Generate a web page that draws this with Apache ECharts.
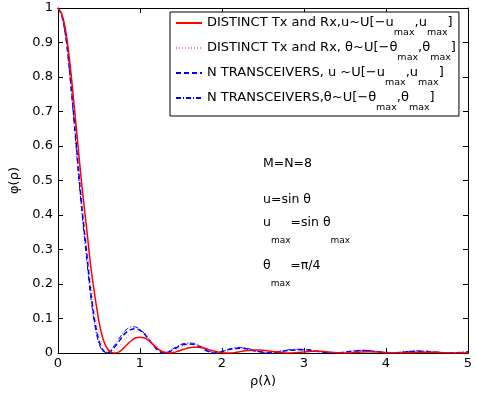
<!DOCTYPE html>
<html>
<head>
<meta charset="utf-8">
<script src="https://cdn.jsdelivr.net/npm/echarts@6/dist/echarts.min.js"></script>
<style>
  html, body { margin: 0; padding: 0; background: #fff; }
  #chart { width: 477px; height: 395px; }
</style>
</head>
<body>
<div id="chart"></div>
<script>
// rho (lambda) sample positions
const rho = [
  0, 0.05, 0.1, 0.15, 0.2, 0.25, 0.3, 0.35, 0.4, 0.45, 0.5, 0.55, 0.6, 0.65, 0.7, 0.75, 0.8, 0.85, 0.9, 0.95,
  1.0, 1.05, 1.1, 1.15, 1.2, 1.25, 1.3, 1.35, 1.4, 1.45, 1.5, 1.55, 1.6, 1.65, 1.7, 1.75, 1.8, 1.85, 1.9, 1.95,
  2.0, 2.05, 2.1, 2.15, 2.2, 2.25, 2.3, 2.35, 2.4, 2.45, 2.5,
  2.6, 2.7, 2.8, 2.9, 3.0, 3.1, 3.2, 3.3, 3.4, 3.5, 3.6, 3.7, 3.8, 3.9, 4.0, 4.1, 4.2, 4.3, 4.4, 4.5, 4.6, 4.7, 4.8, 4.9, 5.0
];

// DISTINCT Tx and Rx, u uniform (red solid)
const distinctU = [
  1, 0.98, 0.925, 0.83, 0.71, 0.585, 0.465, 0.36, 0.25, 0.165, 0.09, 0.04, 0.013, 0.002, 0, 0.004, 0.014, 0.026, 0.037, 0.044,
  0.046, 0.044, 0.037, 0.027, 0.016, 0.007, 0.002, 0, 0.001, 0.004, 0.008, 0.012, 0.015, 0.0165, 0.0165, 0.016, 0.013, 0.009, 0.006, 0.003,
  0.001, 0, 0, 0.001, 0.003, 0.005, 0.007, 0.008, 0.0085, 0.0085, 0.008,
  0.005, 0.002, 0, 0.001, 0.003, 0.005, 0.005, 0.003, 0.001, 0, 0.001, 0.003, 0.0035, 0.003, 0.0015, 0.0003, 0, 0.001, 0.002, 0.0025, 0.002, 0.001, 0.0002, 0, 0.0005
];

// DISTINCT Tx and Rx, theta uniform (red dotted)
const distinctTheta = [
  1, 0.978, 0.915, 0.81, 0.685, 0.55, 0.425, 0.315, 0.205, 0.12, 0.055, 0.018, 0.003, 0.001, 0.008, 0.02, 0.035, 0.048, 0.057, 0.062,
  0.063, 0.059, 0.05, 0.037, 0.023, 0.011, 0.003, 0.001, 0.004, 0.01, 0.016, 0.021, 0.024, 0.025, 0.024, 0.02, 0.015, 0.009, 0.004, 0.001,
  0.001, 0.003, 0.007, 0.01, 0.012, 0.013, 0.013, 0.011, 0.008, 0.005, 0.002,
  0.001, 0.004, 0.007, 0.009, 0.009, 0.007, 0.004, 0.001, 0.001, 0.003, 0.005, 0.006, 0.006, 0.004, 0.001, 0.0005, 0.002, 0.004, 0.005, 0.005, 0.003, 0.001, 0.0005, 0.002, 0.003
];

// N TRANSCEIVERS, u uniform (blue dashed)
const transU = [
  1, 0.975, 0.91, 0.8, 0.67, 0.53, 0.4, 0.29, 0.175, 0.09, 0.035, 0.008, 0, 0.006, 0.02, 0.036, 0.052, 0.063, 0.069, 0.07,
  0.066, 0.056, 0.042, 0.026, 0.012, 0.003, 0, 0.003, 0.009, 0.016, 0.022, 0.025, 0.026, 0.025, 0.021, 0.015, 0.008, 0.003, 0, 0.001,
  0.004, 0.008, 0.011, 0.013, 0.014, 0.014, 0.012, 0.009, 0.006, 0.004, 0.002,
  0, 0.003, 0.007, 0.009, 0.0095, 0.007, 0.003, 0.0005, 0, 0.002, 0.005, 0.007, 0.006, 0.003, 0.001, 0, 0.002, 0.004, 0.005, 0.004, 0.002, 0.0005, 0, 0.001, 0.003
];

// N TRANSCEIVERS, theta uniform (blue dash-dot)
const transTheta = [
  1, 0.975, 0.905, 0.79, 0.655, 0.515, 0.385, 0.27, 0.16, 0.078, 0.027, 0.004, 0.001, 0.01, 0.026, 0.044, 0.06, 0.071, 0.076, 0.075,
  0.069, 0.057, 0.042, 0.026, 0.012, 0.004, 0.001, 0.005, 0.012, 0.019, 0.025, 0.028, 0.029, 0.028, 0.024, 0.018, 0.011, 0.005, 0.001, 0.001,
  0.004, 0.008, 0.012, 0.015, 0.016, 0.016, 0.014, 0.011, 0.007, 0.004, 0.002,
  0.001, 0.005, 0.009, 0.011, 0.011, 0.008, 0.004, 0.001, 0.001, 0.003, 0.006, 0.008, 0.007, 0.004, 0.001, 0.001, 0.003, 0.005, 0.006, 0.005, 0.003, 0.001, 0.001, 0.002, 0.004
];

const seriesNames = ['distinctU', 'distinctTheta', 'transU', 'transTheta'];
const legendLabels = {
  distinctU: '{t|DISTINCT Tx and Rx,u~U[−u}{s|max}{t|,u}{s|max}{t|]}',
  distinctTheta: '{t|DISTINCT Tx and Rx, θ~U[−θ}{s|max}{t|,θ}{s|max}{t|]}',
  transU: '{t|N TRANSCEIVERS, u ~U[−u}{s|max}{t|,u}{s|max}{t|]}',
  transTheta: '{t|N TRANSCEIVERS,θ~U[−θ}{s|max}{t|,θ}{s|max}{t|]}'
};

const FONT = 'DejaVu Sans, Liberation Sans, Arial, sans-serif';
const pts = ys => rho.map((x, i) => [x, ys[i]]);

const richLegend = {
  t: { fontFamily: FONT, fontSize: 13, color: '#000', lineHeight: 14, verticalAlign: 'top' },
  s: { fontFamily: FONT, fontSize: 9.5, color: '#000', lineHeight: 10, padding: [12, 0, 0, 0], verticalAlign: 'top' }
};
const richNote = {
  t: { fontFamily: FONT, fontSize: 12.5, color: '#000', lineHeight: 14, verticalAlign: 'top' },
  s: { fontFamily: FONT, fontSize: 9, color: '#000', lineHeight: 10, padding: [20, 0, 0, 0], verticalAlign: 'top' }
};

const chart = echarts.init(document.getElementById('chart'));

const axisBase = {
  axisLine: { show: true, onZero: false, lineStyle: { color: '#000', width: 1 } },
  axisTick: { show: true, inside: true, length: 5, lineStyle: { color: '#000' } },
  splitLine: { show: false }
};

chart.setOption({
  animation: false,
  backgroundColor: '#fff',
  grid: { left: 58, right: 9, top: 8, bottom: 42, containLabel: false },
  xAxis: [
    Object.assign({}, axisBase, {
      type: 'value', min: 0, max: 5, interval: 1, position: 'bottom',
      name: 'ρ(λ)', nameLocation: 'middle', nameGap: 21,
      nameTextStyle: { fontFamily: FONT, fontSize: 13, color: '#000' },
      axisLabel: { fontFamily: FONT, fontSize: 13, color: '#000', margin: 4 }
    }),
    Object.assign({}, axisBase, {
      type: 'value', min: 0, max: 5, interval: 1, position: 'top',
      axisLabel: { show: false }
    })
  ],
  yAxis: [
    Object.assign({}, axisBase, {
      type: 'value', min: 0, max: 1, interval: 0.1, position: 'left',
      name: 'φ(ρ)', nameLocation: 'middle', nameGap: 36, nameRotate: 90,
      nameTextStyle: { fontFamily: FONT, fontSize: 13, color: '#000' },
      axisLabel: { fontFamily: FONT, fontSize: 13, color: '#000', margin: 5 }
    }),
    Object.assign({}, axisBase, {
      type: 'value', min: 0, max: 1, interval: 0.1, position: 'right',
      axisLabel: { show: false }
    })
  ],
  legend: {
    orient: 'vertical',
    left: 170, top: 12,
    padding: [4, 3, 3, 5],
    itemGap: 3,
    itemWidth: 26, itemHeight: 14,
    backgroundColor: '#fff',
    borderColor: '#000', borderWidth: 1,
    itemStyle: { opacity: 0 },
    data: seriesNames,
    formatter: name => legendLabels[name],
    textStyle: { rich: richLegend }
  },
  graphic: [
    { type: 'text', left: 263, top: 157, style: { text: '{t|M=N=8}', rich: richNote } },
    { type: 'text', left: 263, top: 193, style: { text: '{t|u=sin θ}', rich: richNote } },
    { type: 'text', left: 263, top: 216, style: { text: '{t|u}{s|max}{t|=sin θ}{s|max}', rich: richNote } },
    { type: 'text', left: 263, top: 259, style: { text: '{t|θ}{s|max}{t|=π/4}', rich: richNote } }
  ],
  series: [
    {
      name: 'distinctU', type: 'line', smooth: 0.3, symbol: 'none', z: 5,
      lineStyle: { color: '#ff0000', width: 1.5, type: 'solid' },
      itemStyle: { color: '#ff0000' },
      data: pts(distinctU)
    },
    {
      name: 'distinctTheta', type: 'line', smooth: 0.3, symbol: 'none', z: 3,
      lineStyle: { color: 'rgba(255,0,0,0.5)', width: 1, type: [1, 2] },
      itemStyle: { color: 'rgba(255,0,0,0.5)' },
      data: pts(distinctTheta)
    },
    {
      name: 'transU', type: 'line', smooth: 0.3, symbol: 'none', z: 4,
      lineStyle: { color: '#0000ff', width: 1.5, type: [5, 3] },
      itemStyle: { color: '#0000ff' },
      data: pts(transU)
    },
    {
      name: 'transTheta', type: 'line', smooth: 0.3, symbol: 'none', z: 4,
      lineStyle: { color: '#0000ff', width: 1, type: [5, 2, 1, 2] },
      itemStyle: { color: '#0000ff' },
      data: pts(transTheta)
    }
  ]
});
</script>
</body>
</html>
